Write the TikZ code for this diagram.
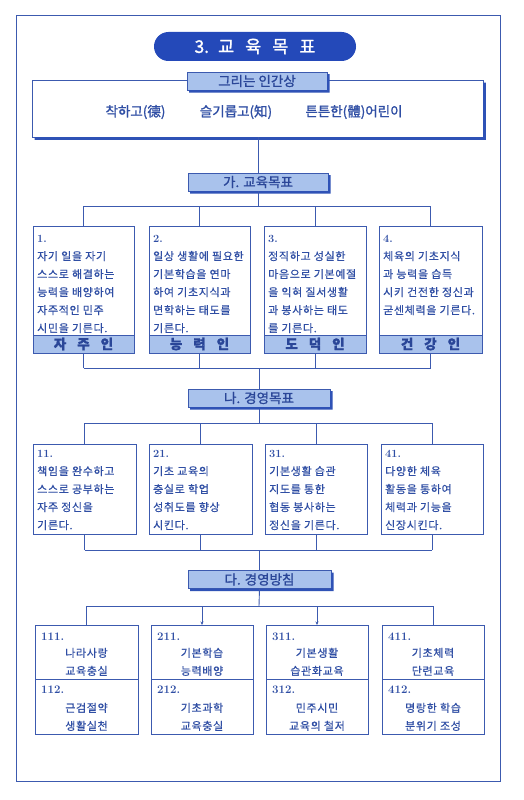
\documentclass[tikz,border=0pt]{standalone}
\usepackage{fontspec}
\newfontfamily\kr[FakeBold=0.5,LetterSpace=6]{Noto Sans CJK KR}
\newfontfamily\krb[FakeBold=1.2]{Noto Sans CJK KR}
\usetikzlibrary{arrows.meta,calc}
\definecolor{lineblue}{HTML}{3C5AAF}
\definecolor{textblue}{HTML}{2F4EA4}
\definecolor{tabfill}{HTML}{A9C2EC}
\definecolor{tabtext}{HTML}{2A4698}
\definecolor{shadowblue}{HTML}{2F52B6}
\definecolor{pillblue}{HTML}{2449B9}
\begin{document}
\begin{tikzpicture}[x=1pt,y=-1pt,
  ln/.style={draw=lineblue, line width=0.9pt},
  frm/.style={draw=lineblue, line width=1pt, inner sep=0pt, outer sep=0pt},
  boxn/.style={draw=lineblue, line width=0.9pt, fill=white, inner sep=0pt, outer sep=0pt, anchor=north west},
  tabbox/.style={draw=lineblue, line width=0.8pt, fill=tabfill, inner sep=0pt, outer sep=0pt,
    minimum height=18pt, text=tabtext, font=\krb\fontsize{13.5}{13.5}\selectfont},
  shadowfill/.style={fill=shadowblue},
  labelbar/.style={draw=lineblue, line width=0.8pt, fill=tabfill, inner sep=0pt, outer sep=0pt,
    minimum height=18pt, anchor=south west, text=tabtext, font=\krb\bfseries\fontsize{13.5}{13.5}\selectfont},
  boxtext/.style={inner sep=0pt, anchor=north west, align=left, text=textblue,
    font=\kr\fontsize{11}{18}\selectfont},
  ctext/.style={inner sep=0pt, anchor=base, text=textblue, font=\kr\fontsize{11}{11}\selectfont},
  ntext/.style={inner sep=0pt, anchor=base west, text=textblue, font=\rmfamily\bfseries\fontsize{11.5}{11.5}\selectfont},
  bigtext/.style={inner sep=0pt, text=textblue, font=\krb\fontsize{13.5}{13.5}\selectfont},
  arr/.style={ln, -{Stealth[length=3.5pt,width=3pt]}}
]
\useasboundingbox (0,0) rectangle (524,800);
\fill[white] (0,0) rectangle (524,800);
% outer frame
\node[frm, minimum width=484pt, minimum height=765pt, anchor=north west] (frame) at (16,16) {};
% title pill
\node[fill=pillblue, rounded corners=14.5pt, minimum width=202pt, minimum height=29pt, inner sep=0pt,
  text=white, font=\krb\fontsize{17.5}{17.5}\selectfont] (title) at (255,46.5)
  {3.\hspace{9pt}교\hspace{11pt}육\hspace{11pt}목\hspace{11pt}표};
% ideal box
\node[draw=lineblue, line width=0.9pt, fill=white, inner sep=0pt, outer sep=0pt,
  minimum width=451pt, minimum height=57pt] (ideal) at (257.5,108.5) {};
\fill[shadowfill] ($(ideal.north east)+(0,2.5)$) -- ($(ideal.north east)+(2.8,2.5)$) -- ($(ideal.south east)+(2.8,2.8)$)
  -- ($(ideal.south west)+(2.5,2.8)$) -- ($(ideal.south west)+(2.5,0)$) -- (ideal.south east) -- cycle;
\node[tabbox, minimum width=140pt] (hdr) at (257,81) {그리는 인간상};
\node[bigtext] (i1) at (135.5,112) {착하고(德)};
\node[bigtext] (i2) at (236,112) {슬기롭고(知)};
\node[bigtext] (i3) at (354,112) {튼튼한(體)어린이};
% tab A
\node[tabbox, minimum width=140pt] (tabA) at (258,182) {가. 교육목표};
\draw[ln] (tabA.north |- ideal.south) -- (tabA.north);
% shadows of tabs
\foreach \t in {hdr,tabA}{
  \fill[shadowfill] ($(\t.north east)+(0,2.2)$) -- ($(\t.north east)+(2.6,2.2)$) -- ($(\t.south east)+(2.6,2.6)$)
    -- ($(\t.south west)+(2.2,2.6)$) -- ($(\t.south west)+(2.2,0)$) -- (\t.south east) -- cycle;
}
% row 1 boxes
\foreach \n/\x/\w in {b1/33/101, b2/149/101, b3/264/102, b4/379/103}{
  \node[boxn, minimum width=\w pt, minimum height=127pt] (\n) at (\x,226) {};
}
\coordinate (busA) at (258,206);
\draw[ln] (tabA.south) -- (busA);
\draw[ln] (b1.north |- busA) -- (b4.north |- busA);
\foreach \n in {b1,b2,b3,b4}{ \draw[ln] (\n.north |- busA) -- (\n.north); }
\node[boxtext] (b1t) at ($(b1.north west)+(4,6)$) {\rule{0pt}{10pt}{\rmfamily\bfseries 1.}\\자기 일을 자기\\스스로 해결하는\\능력을 배양하여\\자주적인 민주\\시민을 기른다.};
\node[boxtext] (b2t) at ($(b2.north west)+(4,6)$) {\rule{0pt}{10pt}{\rmfamily\bfseries 2.}\\일상 생활에 필요한\\기본학습을 연마\\하여 기초지식과\\면학하는 태도를\\기른다.};
\node[boxtext] (b3t) at ($(b3.north west)+(4,6)$) {\rule{0pt}{10pt}{\rmfamily\bfseries 3.}\\정직하고 성실한\\마음으로 기본예절\\을 익혀 질서생활\\과 봉사하는 태도\\를 기른다.};
\node[boxtext] (b4t) at ($(b4.north west)+(4,6)$) {\rule{0pt}{10pt}{\rmfamily\bfseries 4.}\\체육의 기초지식\\과 능력을 습득\\시키 건전한 정신과\\굳센체력을 기른다.};
\node[labelbar, minimum width=101pt] (b1l) at (b1.south west) {자\hspace{11pt}주\hspace{11pt}인};
\node[labelbar, minimum width=101pt] (b2l) at (b2.south west) {능\hspace{11pt}력\hspace{11pt}인};
\node[labelbar, minimum width=102pt] (b3l) at (b3.south west) {도\hspace{11pt}덕\hspace{11pt}인};
\node[labelbar, minimum width=103pt] (b4l) at (b4.south west) {건\hspace{11pt}강\hspace{11pt}인};
% tab B
\node[tabbox, minimum width=142pt] (tabB) at (259,398) {나. 경영목표};
\coordinate (busB) at (258,368);
\foreach \n in {b1,b2,b3,b4}{ \draw[ln] (\n.south) -- (\n.south |- busB); }
\draw[ln] (b1.south |- busB) -- (b4.south |- busB);
\draw[ln] (tabB.north |- busB) -- (tabB.north);
% row 2 boxes
\foreach \n/\x/\w in {c1/33/103, c2/149/103, c3/265/102, c4/381/102}{
  \node[boxn, minimum width=\w pt, minimum height=90pt] (\n) at (\x,444) {};
}
\coordinate (busC) at (259,423);
\draw[ln] (tabB.south) -- (busC);
\draw[ln] (c1.north |- busC) -- (c4.north |- busC);
\foreach \n in {c1,c2,c3,c4}{ \draw[ln] (\n.north |- busC) -- (\n.north); }
\node[boxtext] (c1t) at ($(c1.north west)+(4,3)$) {\rule{0pt}{10pt}{\rmfamily\bfseries 11.}\\책임을 완수하고\\스스로 공부하는\\자주 정신을\\기른다.};
\node[boxtext] (c2t) at ($(c2.north west)+(4,3)$) {\rule{0pt}{10pt}{\rmfamily\bfseries 21.}\\기초 교육의\\충실로 학업\\성취도를 향상\\시킨다.};
\node[boxtext] (c3t) at ($(c3.north west)+(4,3)$) {\rule{0pt}{10pt}{\rmfamily\bfseries 31.}\\기본생활 습관\\지도를 통한\\협동 봉사하는\\정신을 기른다.};
\node[boxtext] (c4t) at ($(c4.north west)+(4,3)$) {\rule{0pt}{10pt}{\rmfamily\bfseries 41.}\\다양한 체육\\활동을 통하여\\체력과 기능을\\신장시킨다.};
% tab C
\node[tabbox, minimum width=143pt] (tabC) at (259.5,579.5) {다. 경영방침};
\coordinate (busD) at (259,550);
\foreach \n in {c1,c2,c3,c4}{ \draw[ln] (\n.south) -- (\n.south |- busD); }
\draw[ln] (c1.south |- busD) -- (c4.south |- busD);
\draw[ln] (tabC.north |- busD) -- (tabC.north);
\foreach \t in {tabB,tabC}{
  \fill[shadowfill] ($(\t.north east)+(0,2.2)$) -- ($(\t.north east)+(2.6,2.2)$) -- ($(\t.south east)+(2.6,2.6)$)
    -- ($(\t.south west)+(2.2,2.6)$) -- ($(\t.south west)+(2.2,0)$) -- (\t.south east) -- cycle;
}
% row 3 boxes
\foreach \n/\x/\w in {d1/35/103, d2/151/102, d3/266/102, d4/382/102}{
  \node[boxn, minimum width=\w pt, minimum height=109pt] (\n) at (\x,625) {};
  \draw[ln] ($(\n.north west)+(0,54)$) -- ($(\n.north east)+(0,54)$);
}
\coordinate (busE) at (259,606);
\draw[ln] (tabC.south) -- (busE);
\draw[ln] (d1.north |- busE) -- (d4.north |- busE);
\draw[ln] (d1.north |- busE) -- (d1.north);
\draw[arr] (d2.north |- busE) -- (d2.north);
\draw[arr] (d3.north |- busE) -- (d3.north);
\draw[ln] (d4.north |- busE) -- (d4.north);
\foreach \n/\a/\b/\c/\d/\e/\f in {
  d1/111./나라사랑/교육충실/112./근검절약/생활실천,
  d2/211./기본학습/능력배양/212./기초과학/교육충실,
  d3/311./기본생활/습관화교육/312./민주시민/교육의 철저,
  d4/411./기초체력/단련교육/412./명랑한 학습/분위기 조성}{
  \node[ntext] (\n n1) at ($(\n.north west)+(6,15)$) {\a};
  \node[ctext] (\n l1) at ($(\n.north)+(0,32)$) {\b};
  \node[ctext] (\n l2) at ($(\n.north)+(0,50)$) {\c};
  \node[ntext] (\n n2) at ($(\n.north west)+(6,68)$) {\d};
  \node[ctext] (\n l3) at ($(\n.north)+(0,87)$) {\e};
  \node[ctext] (\n l4) at ($(\n.north)+(0,105)$) {\f};
}
\end{tikzpicture}
\end{document}
